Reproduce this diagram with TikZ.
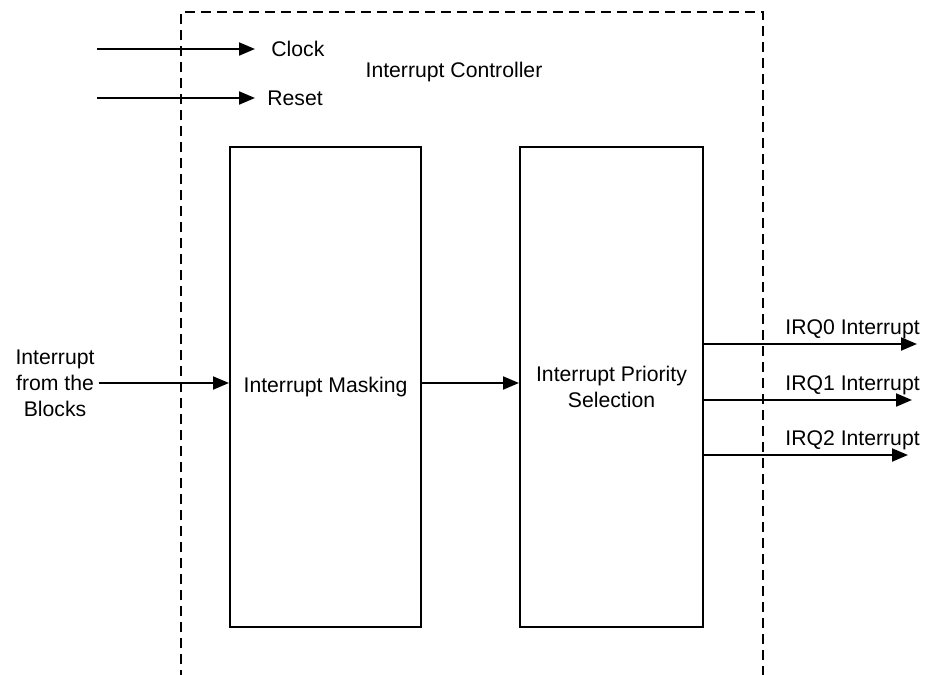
\documentclass[tikz,border=0pt]{standalone}
\usepackage{fontspec}
\setmainfont{Liberation Sans}
\usepackage{tikz}
\usetikzlibrary{
arrows.meta,
positioning
}
\tikzset{
icblock/.style={draw=black, line width=1pt, align=center, inner sep=0pt,
  minimum height=240pt, font=\fontsize{10.6}{13}\selectfont},
icarrow/.style={-{Triangle[length=8pt, width=6.5pt]}, line width=1pt, draw=black},
icdashed/.style={line width=0.8pt, dash pattern=on 5pt off 3pt, draw=black},
iclabel/.style={inner sep=0pt, font=\fontsize{10.6}{13}\selectfont, align=center}
}

\begin{document}
\begin{tikzpicture}[x=0.5pt, y=-0.5pt]
\useasboundingbox (0,0) rectangle (927,675);

% controller boundary, open at the bottom
\draw[icdashed] (181,680) -- (181,12) -- (763,12) -- (763,680);
\node[iclabel] (title) at (454,72) {Interrupt Controller};

% blocks
\node[icblock, minimum width=95.5pt] (mask) at (325.5,387) {Interrupt Masking};
\node[icblock, minimum width=91.5pt, right=48.5pt of mask] (prio) {Interrupt Priority\\Selection};

% clock and reset
\coordinate (clkin) at (97,49);
\coordinate (rstin) at (97,98);
\node[iclabel, anchor=west, inner xsep=8pt] (clk) at (255,49) {Clock};
\node[iclabel, anchor=west, inner xsep=6pt] (rst) at (255,98) {Reset};
\draw[icarrow] (clkin) -- (clk.west);
\draw[icarrow] (rstin) -- (rst.west);

% interrupt input
\node[iclabel, inner xsep=2pt] (inp) at (55,383) {Interrupt\\from the\\Blocks};
\draw[icarrow] (inp.east) -- (inp.east -| mask.west);
\draw[icarrow] (mask.east |- inp.east) -- (prio.west |- inp.east);

% interrupt outputs
\foreach \i/\yy/\xe in {0/344/917, 1/400/912, 2/455/908} {
  \coordinate (irq\i) at (\xe,\yy);
  \node[iclabel, anchor=base west] (lirq\i) at (785,\yy-10) {IRQ\i{} Interrupt};
  \draw[icarrow] (prio.east |- irq\i) -- (irq\i);
}
\end{tikzpicture}
\end{document}
